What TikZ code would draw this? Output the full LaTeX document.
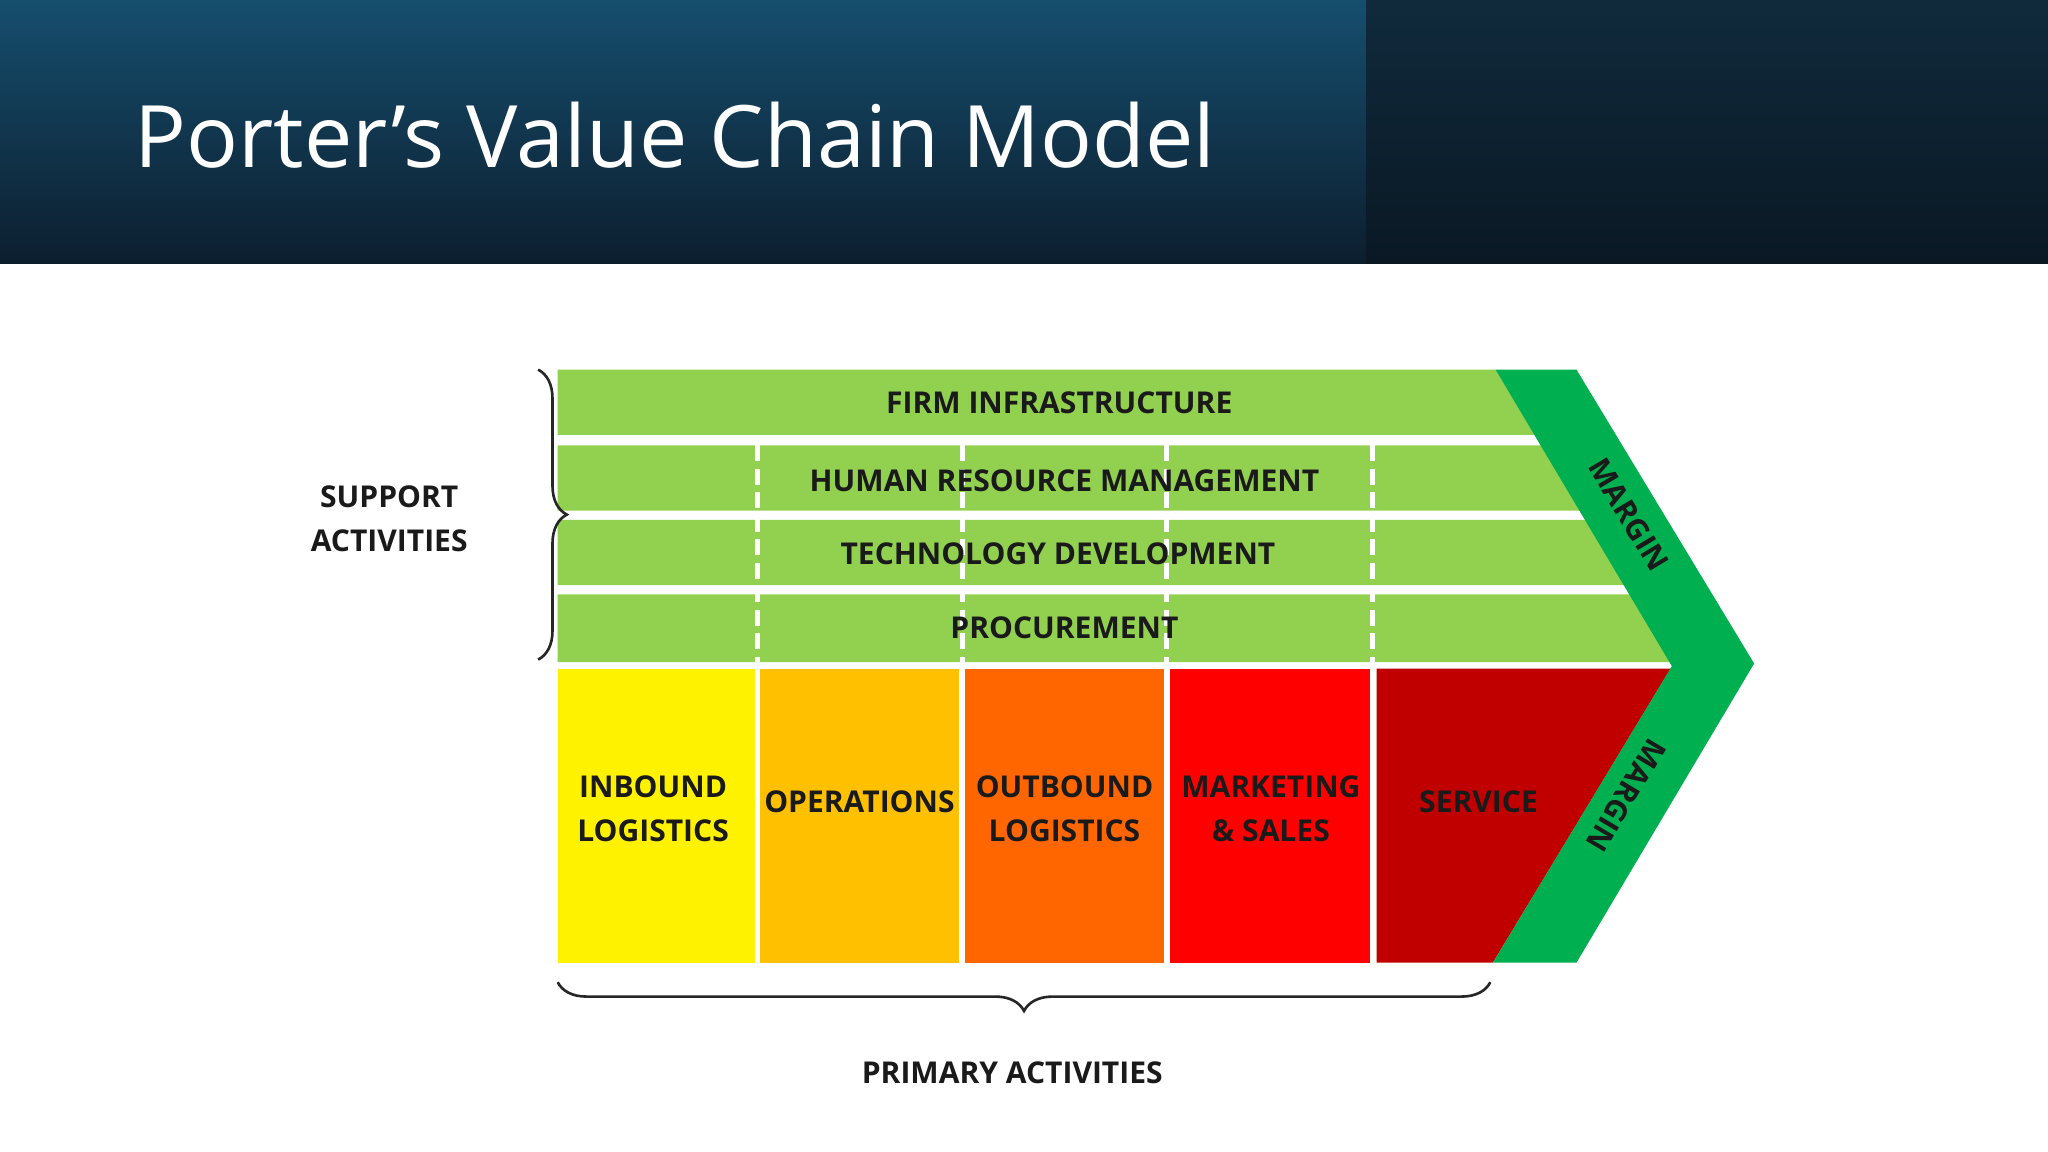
\documentclass[tikz,border=0pt]{standalone}
\usepackage{fontspec}
\setmainfont{Open Sans}
\usetikzlibrary{decorations.pathreplacing}
\definecolor{lg}{HTML}{92D050}
\definecolor{mg}{HTML}{00B050}
\definecolor{tx}{HTML}{1A1A1A}
\definecolor{amb}{HTML}{FFC000}
\definecolor{org}{HTML}{FF6600}
\definecolor{drd}{HTML}{C00000}
\definecolor{h1}{HTML}{164E6E}
\definecolor{h2}{HTML}{0C1E2E}
\definecolor{h3}{HTML}{102A3C}
\definecolor{h4}{HTML}{0A1824}
\tikzset{lab/.style={font=\fontsize{23}{34}\selectfont\bfseries,text=tx,align=center},
 gap/.style={white,line width=3.5pt,dash pattern=on 12pt off 6pt},
 br/.style={decorate,decoration={brace,amplitude=22pt},line width=2pt,draw=black!85}}
\begin{document}
\begin{tikzpicture}[x=1pt,y=-1pt]
\useasboundingbox (0,0) rectangle (1568,882);
\fill[white] (0,0) rectangle (1568,882);
\shade[top color=h1,bottom color=h2] (0,0) rectangle (1046,202);
\shade[top color=h3,bottom color=h4] (1046,0) rectangle (1568,202);
\node[anchor=base west,text=white,font=\fontsize{66}{74}\selectfont,inner sep=0] (title) at (103,128) {Porter’s Value Chain Model};
% support rows
\fill[lg] (427,283) -- (1145,283) -- (1175,333) -- (427,333) -- cycle;
\fill[lg] (427,341) -- (1180,341) -- (1210,391) -- (427,391) -- cycle;
\fill[lg] (427,398) -- (1214,398) -- (1244,448) -- (427,448) -- cycle;
\fill[lg] (427,455) -- (1248,455) -- (1279,507) -- (427,507) -- cycle;
\foreach \x in {580,737,893,1051}{\draw[gap] (\x,341) -- (\x,507);}
% primary
\fill[yellow] (427,512) rectangle (578,737);
\fill[amb] (582,512) rectangle (734,737);
\fill[org] (739,512) rectangle (891,737);
\fill[red] (896,512) rectangle (1049,737);
\fill[drd] (1054,512) -- (1279,512) -- (1143,737) -- (1054,737) -- cycle;
% margin
\fill[mg] (1145,283) -- (1207,283) -- (1343,508) -- (1207,737) -- (1143,737) -- (1280,510) -- cycle;
\node[lab] (fi) at (811,308) {FIRM INFRASTRUCTURE};
\node[lab] (hr) at (815,368) {HUMAN RESOURCE MANAGEMENT};
\node[lab] (td) at (810,424) {TECHNOLOGY DEVELOPMENT};
\node[lab] (pr) at (815,481) {PROCUREMENT};
\node[lab] (il) at (500,619) {INBOUND\\LOGISTICS};
\node[lab] (op) at (658,614) {OPERATIONS};
\node[lab] (ol) at (815,619) {OUTBOUND\\LOGISTICS};
\node[lab] (ms) at (973,619) {MARKETING\\\&~SALES};
\node[lab] (sv) at (1132,614) {SERVICE};
\node[lab,rotate=-59,inner sep=0pt] (m1) at (1247,394) {MARGIN};
\node[lab,rotate=-121,inner sep=0pt] (m2) at (1245,609) {MARGIN};
\node[lab] (sa) at (298,397) {SUPPORT\\ACTIVITIES};
\node[lab] (pa) at (775,821) {PRIMARY ACTIVITIES};
\draw[br] (412,283) -- (412,505);
\draw[br] (1141,752) -- (427,752);
\end{tikzpicture}
\end{document}
